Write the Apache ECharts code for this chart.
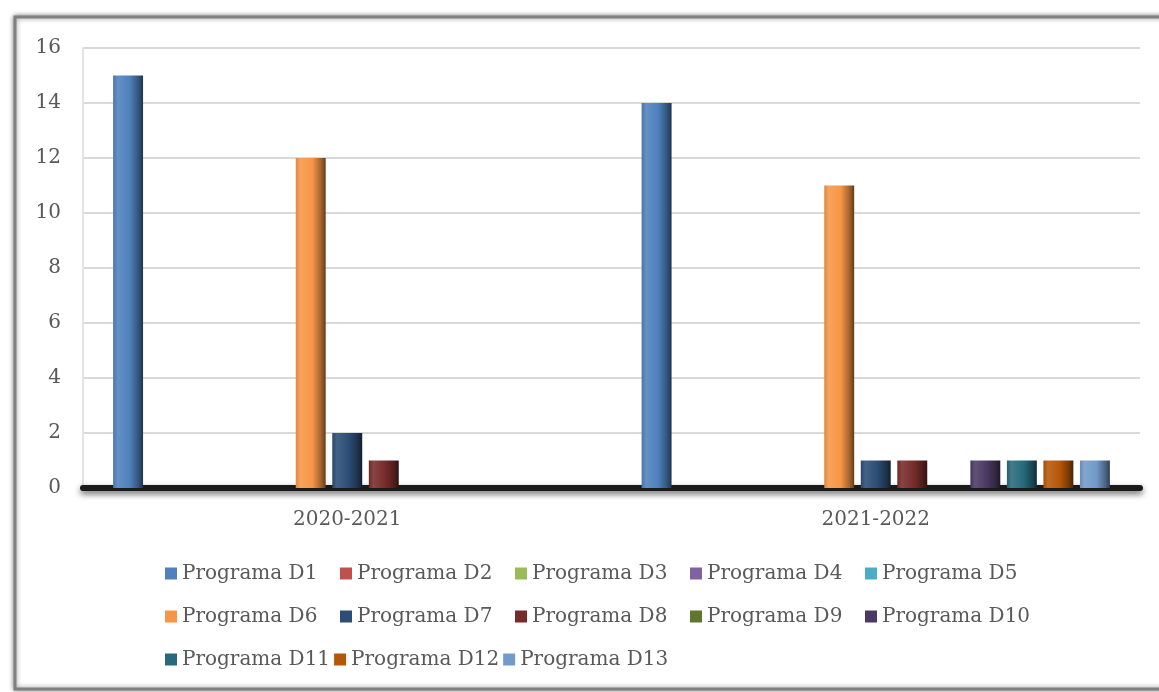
<!DOCTYPE html>
<html>
<head>
<meta charset="utf-8">
<script src="https://cdn.jsdelivr.net/npm/echarts@6/dist/echarts.min.js"></script>
<style>
  html, body { margin: 0; padding: 0; background: #fff; }
  #chart { width: 1159px; height: 692px; }
</style>
</head>
<body>
<div id="chart"></div>
<script>
// categories and values
const categories = ['2020-2021', '2021-2022'];
const seriesNames = [
  'Programa D1', 'Programa D2', 'Programa D3', 'Programa D4', 'Programa D5',
  'Programa D6', 'Programa D7', 'Programa D8', 'Programa D9', 'Programa D10',
  'Programa D11', 'Programa D12', 'Programa D13'
];
const d1 = [15, 14];
const d2 = [0, 0];
const d3 = [0, 0];
const d4 = [0, 0];
const d5 = [0, 0];
const d6 = [12, 11];
const d7 = [2, 1];
const d8 = [1, 1];
const d9 = [0, 0];
const d10 = [0, 1];
const d11 = [0, 1];
const d12 = [0, 1];
const d13 = [0, 1];
const seriesValues = [d1, d2, d3, d4, d5, d6, d7, d8, d9, d10, d11, d12, d13];
const yTicks = [0, 2, 4, 6, 8, 10, 12, 14, 16];

// office 2007 style palette
const colors = [
  '#4f81bd', '#c0504d', '#9bbb59', '#8064a2', '#4bacc6',
  '#f79646', '#2c4d75', '#772c2a', '#5f7530', '#4a3a63',
  '#276a7c', '#b65708', '#729aca'
];

function shade(hex, f) {
  const n = parseInt(hex.slice(1), 16);
  let r = (n >> 16) & 255, g = (n >> 8) & 255, b = n & 255;
  if (f > 0) {
    r += (255 - r) * f; g += (255 - g) * f; b += (255 - b) * f;
  } else {
    r *= 1 + f; g *= 1 + f; b *= 1 + f;
  }
  return 'rgb(' + Math.round(r) + ',' + Math.round(g) + ',' + Math.round(b) + ')';
}

function barFill(c) {
  return new echarts.graphic.LinearGradient(0, 0, 1, 0, [
    { offset: 0, color: shade(c, -0.1) },
    { offset: 0.15, color: shade(c, 0.12) },
    { offset: 0.55, color: c },
    { offset: 0.85, color: shade(c, -0.35) },
    { offset: 1, color: shade(c, -0.6) }
  ]);
}

const myChart = echarts.init(document.getElementById('chart'));
const font = 'DejaVu Serif';

function legendItems(from, to) {
  return seriesNames.slice(from, to).map((name, k) => ({
    name: name,
    itemStyle: { color: colors[from + k], borderWidth: 0 }
  }));
}

const legendBase = {
  left: 160,
  itemWidth: 12,
  itemHeight: 12,
  icon: 'rect',
  textStyle: {
    fontFamily: font,
    fontSize: 20,
    color: '#595959',
    lineHeight: 25
  }
};

const option = {
  animation: false,
  color: colors,
  graphic: {
    elements: [
      {
        type: 'rect',
        z: -10,
        shape: { x: 15, y: 17, width: 1160, height: 672 },
        style: {
          fill: '#fff',
          stroke: '#808080',
          lineWidth: 3,
          shadowBlur: 5,
          shadowColor: 'rgba(0,0,0,0.45)'
        }
      }
    ]
  },
  grid: {
    left: 83,
    right: 19,
    top: 48,
    bottom: 204
  },
  legend: [
    Object.assign({}, legendBase, {
      top: 556,
      width: 900,
      itemGap: 18,
      textStyle: Object.assign({}, legendBase.textStyle, { width: 140 }),
      data: legendItems(0, 10)
    }),
    Object.assign({}, legendBase, {
      top: 642,
      width: 900,
      itemGap: 4,
      textStyle: Object.assign({}, legendBase.textStyle, { width: 142 }),
      data: legendItems(10, 13)
    })
  ],
  xAxis: {
    type: 'category',
    data: categories,
    offset: 2,
    axisTick: { show: false },
    axisLine: {
      lineStyle: {
        color: '#1a1a1a',
        width: 6,
        shadowBlur: 6,
        shadowColor: 'rgba(0,0,0,0.6)',
        shadowOffsetY: 3
      }
    },
    axisLabel: {
      margin: 20,
      fontFamily: font,
      fontSize: 20,
      color: '#595959'
    }
  },
  yAxis: {
    type: 'value',
    min: yTicks[0],
    max: yTicks[yTicks.length - 1],
    interval: 2,
    axisLine: { show: true, lineStyle: { color: '#e3e3e3', width: 2 } },
    axisTick: { show: false },
    axisLabel: {
      margin: 22,
      fontFamily: font,
      fontSize: 20,
      color: '#595959'
    },
    splitLine: { lineStyle: { color: '#d9d9d9', width: 2 } }
  },
  series: seriesNames.map((name, i) => ({
    name: name,
    type: 'bar',
    barGap: '22%',
    barCategoryGap: '11.4%',
    itemStyle: {
      color: barFill(colors[i]),
      borderWidth: 0
    },
    data: seriesValues[i]
  }))
};

myChart.setOption(option);
</script>
</body>
</html>
